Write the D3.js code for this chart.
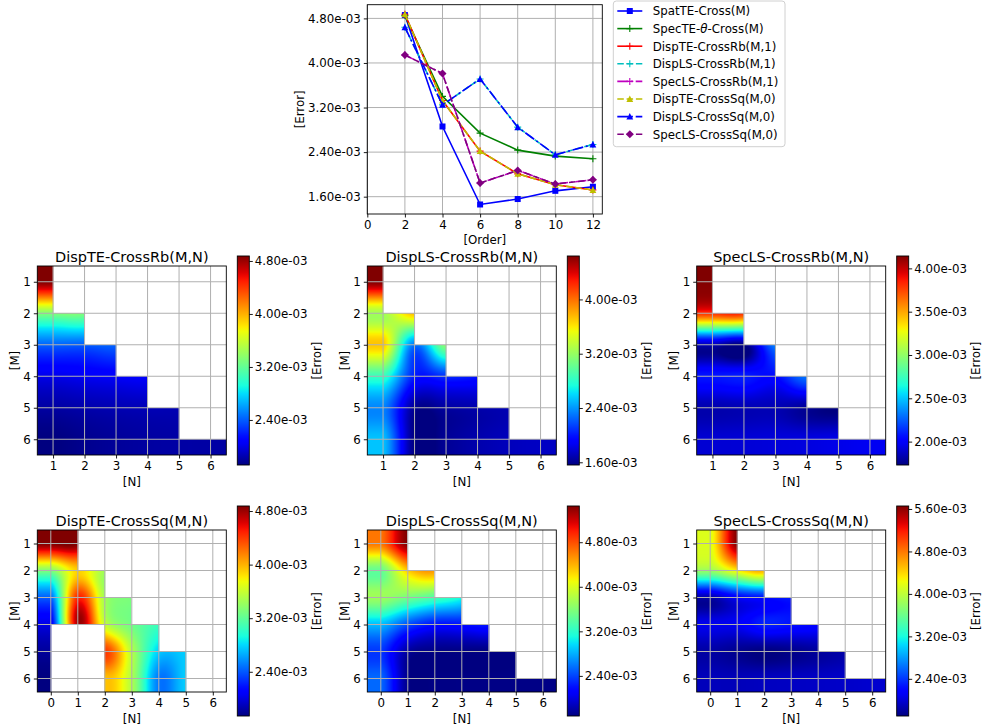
<!DOCTYPE html>
<html><head><meta charset="utf-8">
<script src="https://cdn.jsdelivr.net/npm/d3@7"></script>
<style>
body{margin:0;background:#fff;}
svg{display:block;font-family:"DejaVu Sans",sans-serif;}
</style>
</head><body>
<svg id="chart" width="986" height="726"></svg>
<script>
// ===================== DATA =====================
const orders = [2, 4, 6, 8, 10, 12];
const seriesNames = ["SpatTE-Cross(M)", "SpecTE-θ-Cross(M)", "DispTE-CrossRb(M,1)", "DispLS-CrossRb(M,1)",
  "SpecLS-CrossRb(M,1)", "DispTE-CrossSq(M,0)", "DispLS-CrossSq(M,0)", "SpecLS-CrossSq(M,0)"];
const spatTECross   = [4.860e-3, 2.860e-3, 1.460e-3, 1.558e-3, 1.705e-3, 1.778e-3];
const specTEThCross = [4.850e-3, 3.400e-3, 2.740e-3, 2.436e-3, 2.328e-3, 2.281e-3];
const dispTERb1     = [4.875e-3, 3.325e-3, 2.418e-3, 2.010e-3, 1.815e-3, 1.720e-3];
const dispLSRb1     = [4.640e-3, 3.248e-3, 3.713e-3, 2.848e-3, 2.352e-3, 2.537e-3];
const specLSRb1     = [4.143e-3, 3.809e-3, 1.845e-3, 2.072e-3, 1.827e-3, 1.904e-3];
const dispTESq0     = [4.875e-3, 3.325e-3, 2.418e-3, 2.010e-3, 1.815e-3, 1.720e-3];
const dispLSSq0     = [4.640e-3, 3.248e-3, 3.713e-3, 2.848e-3, 2.352e-3, 2.537e-3];
const specLSSq0     = [4.143e-3, 3.809e-3, 1.845e-3, 2.072e-3, 1.827e-3, 1.904e-3];
const orderTicks = [0, 2, 4, 6, 8, 10, 12];
const errorTicks = [1.6e-3, 2.4e-3, 3.2e-3, 4.0e-3, 4.8e-3];

const mValues = [1, 2, 3, 4, 5, 6];
const nValuesRb = [1, 2, 3, 4, 5, 6];
const nValuesSq = [0, 1, 2, 3, 4, 5, 6];
const _ = null;
// rows: M = 1..6 ; columns: N values (null = no result), values in 1e-3
const dispTECrossRb = [
  [4.875, _, _, _, _, _],
  [3.325, 3.30, _, _, _, _],
  [2.418, 2.40, 2.42, _, _, _],
  [2.010, 2.04, 2.06, 2.06, _, _],
  [1.815, 1.84, 1.86, 1.87, 1.86, _],
  [1.720, 1.76, 1.79, 1.81, 1.82, 1.82]];
const dispLSCrossRb = [
  [4.640, _, _, _, _, _],
  [3.248, 3.75, _, _, _, _],
  [3.713, 2.30, 3.15, _, _, _],
  [2.848, 2.02, 2.08, 2.00, _, _],
  [2.352, 1.62, 1.65, 1.68, 1.70, _],
  [2.537, 1.56, 1.62, 1.68, 1.72, 1.74]];
const specLSCrossRb = [
  [4.143, _, _, _, _, _],
  [3.809, 3.80, _, _, _, _],
  [1.845, 1.74, 2.35, _, _, _],
  [2.072, 2.09, 2.05, 2.30, _, _],
  [1.827, 1.84, 1.84, 1.78, 1.73, _],
  [1.904, 1.91, 1.92, 1.93, 1.95, 1.97]];
const dispTECrossSq = [
  [4.875, 4.87, _, _, _, _, _],
  [3.325, 3.90, 3.46, _, _, _, _],
  [2.418, 4.47, 3.46, 3.30, _, _, _],
  [2.010, 4.75, 3.60, 3.27, 3.06, _, _],
  [1.815, _, 4.40, 3.53, 2.77, 2.77, _],
  [1.740, _, 3.93, 3.50, 2.50, 2.77, _]];
const dispLSCrossSq = [
  [4.640, 5.45, _, _, _, _, _],
  [3.450, 4.30, 4.50, _, _, _, _],
  [3.713, 3.53, 3.34, 3.10, _, _, _],
  [2.848, 2.43, 2.20, 2.20, 2.22, _, _],
  [2.352, 1.79, 1.70, 1.69, 1.68, 1.70, _],
  [2.537, 1.72, 1.70, 1.70, 1.70, 1.70, 1.70]];
const specLSCrossSq = [
  [4.143, 5.656, _, _, _, _, _],
  [3.809, 4.30, 4.55, _, _, _, _],
  [1.845, 2.15, 2.25, 2.30, _, _, _],
  [2.072, 2.10, 2.30, 2.25, 2.20, _, _],
  [1.827, 1.76, 1.70, 1.74, 1.80, 1.85, _],
  [1.904, 1.90, 1.92, 1.93, 1.94, 1.95, 1.97]];
const heatScale = 1e-3;
const cbTicksDispTERb = [2.4e-3, 3.2e-3, 4.0e-3, 4.8e-3];
const cbTicksDispLSRb = [1.6e-3, 2.4e-3, 3.2e-3, 4.0e-3];
const cbTicksSpecLSRb = [2.0e-3, 2.5e-3, 3.0e-3, 3.5e-3, 4.0e-3];
const cbTicksDispTESq = [2.4e-3, 3.2e-3, 4.0e-3, 4.8e-3];
const cbTicksDispLSSq = [2.4e-3, 3.2e-3, 4.0e-3, 4.8e-3];
const cbTicksSpecLSSq = [2.4e-3, 3.2e-3, 4.0e-3, 4.8e-3, 5.6e-3];

// ===================== HELPERS =====================
const svg = d3.select("#chart");
const FONT = "DejaVu Sans";
const TFS = 11.8;
const GRID = "#b0b0b0";
function fmtExp(v) {
  return v.toExponential(2).replace(/e([+-])(\d)$/, (m, s, d) => "e" + s + "0" + d);
}
function styleAxis(g) {
  g.attr("font-family", null).attr("font-size", null);
  g.select(".domain").remove();
  g.selectAll(".tick line").attr("stroke", "#000").attr("stroke-width", 0.9);
  g.selectAll(".tick text").attr("fill", "#000").attr("font-family", FONT).attr("font-size", TFS);
}
// jet colormap
function chan(pts) {
  return d3.scaleLinear().domain(pts.map(p => p[0])).range(pts.map(p => p[1])).clamp(true);
}
const jr = chan([[0, 0], [0.35, 0], [0.66, 1], [0.89, 1], [1, 0.5]]);
const jg = chan([[0, 0], [0.125, 0], [0.375, 1], [0.64, 1], [0.91, 0], [1, 0]]);
const jb = chan([[0, 0.5], [0.11, 1], [0.34, 1], [0.65, 0], [1, 0]]);
function jet(t) { return [jr(t) * 255, jg(t) * 255, jb(t) * 255]; }

// ===================== LINE CHART =====================
const lineSeries = [spatTECross, specTEThCross, dispTERb1, dispLSRb1, specLSRb1, dispTESq0, dispLSSq0, specLSSq0];
const lineStyles = [
  {color: "#0000ff", dash: null, marker: "square"},
  {color: "#008000", dash: null, marker: "plus"},
  {color: "#ff0000", dash: null, marker: "plus"},
  {color: "#00bfbf", dash: "6.5,2.8", marker: "plus"},
  {color: "#bf00bf", dash: "11,2.8,1.8,2.8", marker: "plus"},
  {color: "#bfbf00", dash: "6.5,2.8", marker: "triangle"},
  {color: "#0000ff", dash: "11,2.8,1.8,2.8", marker: "triangle"},
  {color: "#800080", dash: "6.5,2.8", marker: "diamond"}];

const LC = {x0: 367.3, x1: 602.3, y0: 4.7, y1: 214};
const xL = d3.scaleLinear().domain([0, 12.5]).range([LC.x0, LC.x1]);
const allVals = lineSeries.flat();
const [lo, hi] = d3.extent(allVals);
const pad = (hi - lo) * 0.05;
const yL = d3.scaleLinear().domain([lo - pad, hi + pad]).range([LC.y1, LC.y0]);

const gL = svg.append("g");
gL.selectAll(".gx").data(orderTicks).join("line")
  .attr("x1", d => xL(d)).attr("x2", d => xL(d)).attr("y1", LC.y0).attr("y2", LC.y1)
  .attr("stroke", GRID).attr("stroke-width", 1);
gL.selectAll(".gy").data(errorTicks).join("line")
  .attr("x1", LC.x0).attr("x2", LC.x1).attr("y1", d => yL(d)).attr("y2", d => yL(d))
  .attr("stroke", GRID).attr("stroke-width", 1);

function marker(g, type, color) {
  if (type === "square") {
    g.append("rect").attr("x", -3).attr("y", -3).attr("width", 6).attr("height", 6).attr("fill", color);
  } else if (type === "plus") {
    g.append("path").attr("d", "M-3.5,0H3.5M0,-3.5V3.5").attr("stroke", color).attr("stroke-width", 1.1).attr("fill", "none");
  } else if (type === "triangle") {
    g.append("path").attr("d", "M0,-3.5L3.4,3L-3.4,3Z").attr("fill", color);
  } else if (type === "diamond") {
    g.append("path").attr("d", "M0,-4L4,0L0,4L-4,0Z").attr("fill", color);
  }
}
const lineGen = d3.line().x((d, i) => xL(orders[i])).y(d => yL(d));
lineSeries.forEach((vals, k) => {
  const st = lineStyles[k];
  const g = gL.append("g");
  g.append("path").datum(vals).attr("d", lineGen).attr("fill", "none")
    .attr("stroke", st.color).attr("stroke-width", 1.6)
    .attr("stroke-dasharray", st.dash);
  vals.forEach((v, i) => {
    const mg = g.append("g").attr("transform", `translate(${xL(orders[i])},${yL(v)})`);
    marker(mg, st.marker, st.color);
  });
});
gL.append("rect").attr("x", LC.x0).attr("y", LC.y0).attr("width", LC.x1 - LC.x0).attr("height", LC.y1 - LC.y0)
  .attr("fill", "none").attr("stroke", "#000").attr("stroke-width", 0.9);
gL.append("g").attr("transform", `translate(0,${LC.y1})`)
  .call(d3.axisBottom(xL).tickValues(orderTicks).tickSize(3.5).tickPadding(3.5).tickFormat(d3.format("d")))
  .call(styleAxis);
gL.append("g").attr("transform", `translate(${LC.x0},0)`)
  .call(d3.axisLeft(yL).tickValues(errorTicks).tickSize(3.5).tickPadding(3).tickFormat(fmtExp))
  .call(styleAxis);
gL.append("text").attr("x", (LC.x0 + LC.x1) / 2).attr("y", 243.5).attr("text-anchor", "middle")
  .attr("font-size", TFS).text("[Order]");
gL.append("text").attr("transform", `translate(304,${(LC.y0 + LC.y1) / 2}) rotate(-90)`)
  .attr("text-anchor", "middle").attr("font-size", TFS).text("[Error]");

// legend
const LG = {x0: 613.3, y0: 1, x1: 785, y1: 146.7, row0: 11, rowH: 17.6};
const gLeg = svg.append("g");
gLeg.append("rect").attr("x", LG.x0).attr("y", LG.y0).attr("width", LG.x1 - LG.x0).attr("height", LG.y1 - LG.y0)
  .attr("rx", 3).attr("fill", "#fff").attr("stroke", "#d0d0d0").attr("stroke-width", 1);
seriesNames.forEach((name, k) => {
  const st = lineStyles[k];
  const cy = LG.row0 + k * LG.rowH;
  gLeg.append("line").attr("x1", LG.x0 + 4).attr("x2", LG.x0 + 29).attr("y1", cy).attr("y2", cy)
    .attr("stroke", st.color).attr("stroke-width", 1.6).attr("stroke-dasharray", st.dash);
  marker(gLeg.append("g").attr("transform", `translate(${LG.x0 + 16.5},${cy})`), st.marker, st.color);
  const t = gLeg.append("text").attr("x", LG.x0 + 39.4).attr("y", cy + 4.3).attr("font-size", TFS);
  const parts = name.split("θ");
  t.append("tspan").text(parts[0]);
  if (parts.length > 1) {
    t.append("tspan").attr("font-style", "italic").text("θ");
    t.append("tspan").text(parts[1]);
  }
});

// ===================== HEATMAPS =====================
const panels = [
  {title: "DispTE-CrossRb(M,N)", grid: dispTECrossRb, nVals: nValuesRb, cbTicks: cbTicksDispTERb, col: 0, row: 0},
  {title: "DispLS-CrossRb(M,N)", grid: dispLSCrossRb, nVals: nValuesRb, cbTicks: cbTicksDispLSRb, col: 1, row: 0},
  {title: "SpecLS-CrossRb(M,N)", grid: specLSCrossRb, nVals: nValuesRb, cbTicks: cbTicksSpecLSRb, col: 2, row: 0},
  {title: "DispTE-CrossSq(M,N)", grid: dispTECrossSq, nVals: nValuesSq, cbTicks: cbTicksDispTESq, col: 0, row: 1},
  {title: "DispLS-CrossSq(M,N)", grid: dispLSCrossSq, nVals: nValuesSq, cbTicks: cbTicksDispLSSq, col: 1, row: 1},
  {title: "SpecLS-CrossSq(M,N)", grid: specLSCrossSq, nVals: nValuesSq, cbTicks: cbTicksSpecLSSq, col: 2, row: 1}];
const colX0 = [37.3, 367.3, 696.7];
const rowY0 = [266, 530];
const cbRowY = [[256, 465], [506, 716]];
const AX_W = 189;
const CB_GAP = 11, CB_W = 12;

// visibility: all bracketing cells must hold a value
function visible(grid, fx, fy) {
  const nC = grid[0].length, nR = grid.length;
  const i0 = Math.floor(fx), j0 = Math.floor(fy);
  const tx = fx - i0, ty = fy - j0;
  const i1 = (tx > 0 && i0 < nC - 1) ? i0 + 1 : i0;
  const j1 = (ty > 0 && j0 < nR - 1) ? j0 + 1 : j0;
  return grid[j0][i0] != null && grid[j0][i1] != null && grid[j1][i0] != null && grid[j1][i1] != null;
}
// fill empty cells (for interpolation support only) with neighbour averages
function filled(grid) {
  const g = grid.map(r => r.slice());
  let todo = true;
  while (todo) {
    todo = false;
    const next = g.map(r => r.slice());
    for (let j = 0; j < g.length; j++) for (let i = 0; i < g[0].length; i++) {
      if (g[j][i] != null) continue;
      const nb = [[j - 1, i], [j + 1, i], [j, i - 1], [j, i + 1]]
        .filter(([a, b]) => a >= 0 && b >= 0 && a < g.length && b < g[0].length && g[a][b] != null)
        .map(([a, b]) => g[a][b]);
      if (nb.length) next[j][i] = d3.mean(nb); else todo = true;
    }
    for (let j = 0; j < g.length; j++) g[j] = next[j];
  }
  return g;
}
function cr(t) {
  const t2 = t * t, t3 = t2 * t;
  return [(-t3 + 2 * t2 - t) / 2, (3 * t3 - 5 * t2 + 2) / 2, (-3 * t3 + 4 * t2 + t) / 2, (t3 - t2) / 2];
}
function bicubic(g, fx, fy) {
  const nC = g[0].length, nR = g.length;
  const i0 = Math.min(Math.floor(fx), nC - 1), j0 = Math.min(Math.floor(fy), nR - 1);
  const wx = cr(fx - i0), wy = cr(fy - j0);
  let v = 0;
  for (let b = 0; b < 4; b++) {
    const jj = Math.min(Math.max(j0 - 1 + b, 0), nR - 1);
    let row = 0;
    for (let a = 0; a < 4; a++) {
      const ii = Math.min(Math.max(i0 - 1 + a, 0), nC - 1);
      row += wx[a] * g[jj][ii];
    }
    v += wy[b] * row;
  }
  return v;
}

const defs = svg.append("defs");
panels.forEach((p, pi) => {
  const nCols = p.nVals.length;
  const unit = AX_W / nCols;
  const x0 = colX0[p.col], x1 = x0 + AX_W;
  const y0 = rowY0[p.row], y1 = y0 + unit * mValues.length;
  const xs = d3.scaleLinear().domain([p.nVals[0] - 0.5, p.nVals[nCols - 1] + 0.5]).range([x0, x1]);
  const ys = d3.scaleLinear().domain([mValues[0] - 0.5, mValues[mValues.length - 1] + 0.5]).range([y0, y1]);
  const vals = p.grid.flat().filter(v => v != null).map(v => v * heatScale);
  const [vmin, vmax] = d3.extent(vals);
  const norm = d3.scaleLinear().domain([vmin, vmax]).range([0, 1]).clamp(true);
  const full = filled(p.grid);
  const g = svg.append("g");

  // raster
  const W = Math.round(x1 - x0), H = Math.round(y1 - y0);
  const cv = document.createElement("canvas");
  cv.width = W; cv.height = H;
  const ctx = cv.getContext("2d");
  const img = ctx.createImageData(W, H);
  for (let py = 0; py < H; py++) {
    const yd = ys.invert(y0 + (py + 0.5) * (y1 - y0) / H);
    const fy = Math.min(Math.max(yd - mValues[0], 0), mValues.length - 1);
    for (let px = 0; px < W; px++) {
      const xd = xs.invert(x0 + (px + 0.5) * (x1 - x0) / W);
      const fx = Math.min(Math.max(xd - p.nVals[0], 0), nCols - 1);
      const k = (py * W + px) * 4;
      if (!visible(p.grid, fx, fy)) { img.data[k + 3] = 0; continue; }
      const v = bicubic(full, fx, fy);
      const [r, gg, b] = jet(norm(v * heatScale));
      img.data[k] = r; img.data[k + 1] = gg; img.data[k + 2] = b; img.data[k + 3] = 255;
    }
  }
  ctx.putImageData(img, 0, 0);
  g.append("image").attr("href", cv.toDataURL()).attr("x", x0).attr("y", y0)
    .attr("width", x1 - x0).attr("height", y1 - y0).attr("preserveAspectRatio", "none");

  // grid
  g.selectAll(".gx").data(p.nVals).join("line")
    .attr("x1", d => xs(d)).attr("x2", d => xs(d)).attr("y1", y0).attr("y2", y1)
    .attr("stroke", GRID).attr("stroke-width", 1);
  g.selectAll(".gy").data(mValues).join("line")
    .attr("x1", x0).attr("x2", x1).attr("y1", d => ys(d)).attr("y2", d => ys(d))
    .attr("stroke", GRID).attr("stroke-width", 1);
  g.append("rect").attr("x", x0).attr("y", y0).attr("width", x1 - x0).attr("height", y1 - y0)
    .attr("fill", "none").attr("stroke", "#000").attr("stroke-width", 0.9);
  g.append("g").attr("transform", `translate(0,${y1})`)
    .call(d3.axisBottom(xs).tickValues(p.nVals).tickSize(3.5).tickPadding(3.5).tickFormat(d3.format("d")))
    .call(styleAxis);
  g.append("g").attr("transform", `translate(${x0},0)`)
    .call(d3.axisLeft(ys).tickValues(mValues).tickSize(3.5).tickPadding(3).tickFormat(d3.format("d")))
    .call(styleAxis);
  g.append("text").attr("x", (x0 + x1) / 2).attr("y", y0 - 4.5).attr("text-anchor", "middle")
    .attr("font-size", 14.5).text(p.title);
  g.append("text").attr("x", (x0 + x1) / 2).attr("y", y1 + 30.5).attr("text-anchor", "middle")
    .attr("font-size", TFS).text("[N]");
  g.append("text").attr("transform", `translate(${x0 - 18.5},${(y0 + y1) / 2}) rotate(-90)`)
    .attr("text-anchor", "middle").attr("font-size", TFS).text("[M]");

  // colorbar
  const cbx0 = x1 + CB_GAP, cbx1 = cbx0 + CB_W;
  const [cby0, cby1] = cbRowY[p.row];
  const cs = d3.scaleLinear().domain([vmin, vmax]).range([cby1, cby0]);
  const gid = "cbgrad" + pi;
  const grad = defs.append("linearGradient").attr("id", gid)
    .attr("x1", 0).attr("y1", 1).attr("x2", 0).attr("y2", 0);
  d3.range(0, 1.0001, 0.02).forEach(t => {
    const [r, gg, b] = jet(t);
    grad.append("stop").attr("offset", t).attr("stop-color", `rgb(${r},${gg},${b})`);
  });
  g.append("rect").attr("x", cbx0).attr("y", cby0).attr("width", CB_W).attr("height", cby1 - cby0)
    .attr("fill", `url(#${gid})`).attr("stroke", "#000").attr("stroke-width", 0.9);
  g.append("g").attr("transform", `translate(${cbx1},0)`)
    .call(d3.axisRight(cs).tickValues(p.cbTicks).tickSize(3.5).tickPadding(2).tickFormat(fmtExp))
    .call(styleAxis);
  g.append("text").attr("transform", `translate(${cbx1 + 71.4},${(cby0 + cby1) / 2}) rotate(-90)`)
    .attr("text-anchor", "middle").attr("font-size", TFS).text("[Error]");
});
</script>
</body></html>
